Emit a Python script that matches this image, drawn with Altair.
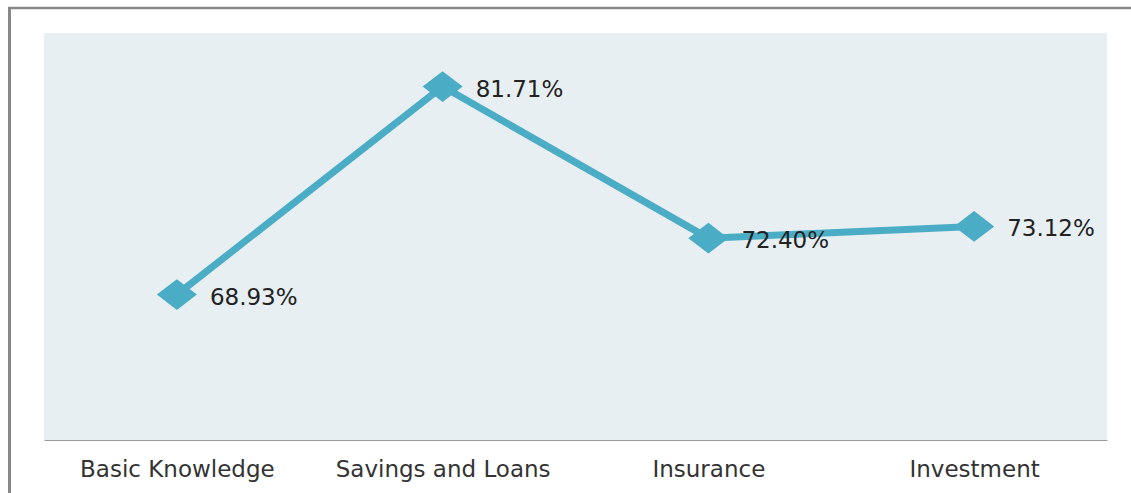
import altair as alt
import pandas as pd

categories = ["Basic Knowledge", "Savings and Loans", "Insurance", "Investment"]
values = [68.93, 81.71, 72.40, 73.12]
labels = ["68.93%", "81.71%", "72.40%", "73.12%"]

df = pd.DataFrame({"cat": categories, "val": values, "lab": labels})

W, H = 1063, 407
LINE = "#4BACC6"

x = alt.X("cat:N", sort=categories,
          scale=alt.Scale(paddingInner=0, paddingOuter=0),
          axis=alt.Axis(title=None, labelAngle=0, ticks=False, domain=True,
                        domainColor="#9a9a9a", domainWidth=1.2,
                        labelFont="DejaVu Sans", labelFontSize=23, labelLimit=400,
                        labelColor="#333333", labelPadding=18))
y = alt.Y("val:Q", scale=alt.Scale(domain=[60, 85], nice=False, zero=False), axis=None)

base = alt.Chart(df).encode(x=x, y=y)

line = base.mark_line(color=LINE, strokeWidth=7)
pts = base.mark_point(shape="M-1.3,0L0,-1L1.3,0L0,1Z", filled=True, color=LINE,
                      size=950, opacity=1)
txt = base.mark_text(align="left", baseline="middle", dx=33, dy=3,
                     font="DejaVu Sans", fontSize=23, color="#222222").encode(text="lab:N")

border_data = alt.Data(values=[{"a": 1}])
left_border = alt.Chart(border_data).mark_rule(color="#878787", strokeWidth=3, clip=False).encode(
    x=alt.value(-34.5), y=alt.value(-25), y2=alt.value(H + 60))
top_border = alt.Chart(border_data).mark_rule(color="#878787", strokeWidth=2.5, clip=False).encode(
    x=alt.value(-36), x2=alt.value(W + 40), y=alt.value(-25))

chart = alt.layer(line, pts, txt, left_border, top_border).properties(
    width=W, height=H,
    padding={"left": 44, "top": 33, "right": 24, "bottom": 53},
    autosize=alt.AutoSizeParams(type="none"),
    background="white",
).configure_view(fill="#E7EFF2", stroke=None)

chart.save("out.html", embed_options={"renderer": "svg", "actions": False})
